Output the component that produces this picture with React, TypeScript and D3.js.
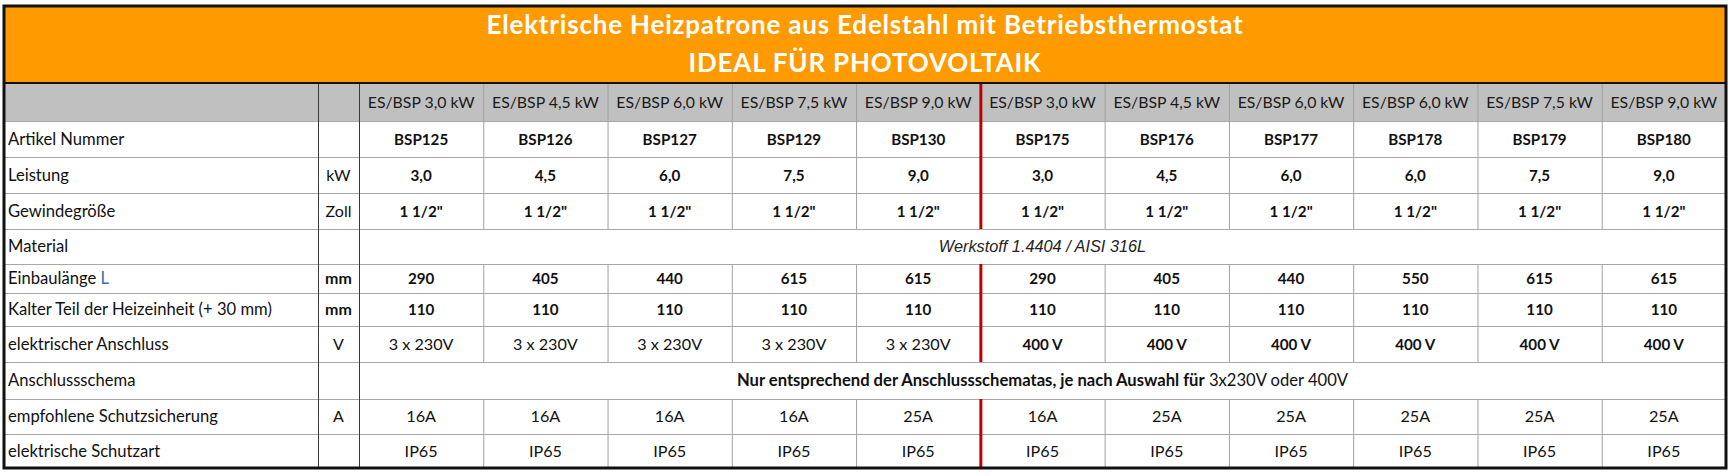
import * as d3 from 'd3'

const titleLines = ['Elektrische Heizpatrone aus Edelstahl mit Betriebsthermostat', 'IDEAL FÜR PHOTOVOLTAIK']

const modelHeaders = [
  'ES/BSP 3,0 kW', 'ES/BSP 4,5 kW', 'ES/BSP 6,0 kW', 'ES/BSP 7,5 kW', 'ES/BSP 9,0 kW',
  'ES/BSP 3,0 kW', 'ES/BSP 4,5 kW', 'ES/BSP 6,0 kW', 'ES/BSP 6,0 kW', 'ES/BSP 7,5 kW', 'ES/BSP 9,0 kW',
]
const articleNumbers = ['BSP125', 'BSP126', 'BSP127', 'BSP129', 'BSP130', 'BSP175', 'BSP176', 'BSP177', 'BSP178', 'BSP179', 'BSP180']
const powerKw = ['3,0', '4,5', '6,0', '7,5', '9,0', '3,0', '4,5', '6,0', '6,0', '7,5', '9,0']
const threadSize = ['1 1/2"', '1 1/2"', '1 1/2"', '1 1/2"', '1 1/2"', '1 1/2"', '1 1/2"', '1 1/2"', '1 1/2"', '1 1/2"', '1 1/2"']
const materialText = 'Werkstoff 1.4404 / AISI 316L'
const installLength = ['290', '405', '440', '615', '615', '290', '405', '440', '550', '615', '615']
const coldPart = ['110', '110', '110', '110', '110', '110', '110', '110', '110', '110', '110']
const connection = ['3 x 230V', '3 x 230V', '3 x 230V', '3 x 230V', '3 x 230V', '400 V', '400 V', '400 V', '400 V', '400 V', '400 V']
const schemaBold = 'Nur entsprechend der Anschlussschematas, je nach Auswahl für'
const schemaPlain = ' 3x230V oder 400V'
const fuse = ['16A', '16A', '16A', '16A', '25A', '16A', '25A', '25A', '25A', '25A', '25A']
const protection = ['IP65', 'IP65', 'IP65', 'IP65', 'IP65', 'IP65', 'IP65', 'IP65', 'IP65', 'IP65', 'IP65']

const rowLabels = [
  'Artikel Nummer', 'Leistung', 'Gewindegröße', 'Material', 'Einbaulänge', 'Kalter Teil der Heizeinheit (+ 30 mm)',
  'elektrischer Anschluss', 'Anschlussschema', 'empfohlene Schutzsicherung', 'elektrische Schutzart',
]
const rowUnits = ['', 'kW', 'Zoll', '', 'mm', 'mm', 'V', '', 'A', '']

const W = 1734
const H = 476
const FONT = 'Lato, "Noto Sans", sans-serif'

// row heights: gray header row, then the body rows
const rowHeights = [38, 36, 36, 36, 35, 29, 33, 36, 37, 35, 34]

export default function App() {
  const left = 4
  const right = 1726
  const top = 6
  const bandTop = 83
  const labelEnd = 318
  const unitEnd = 359
  const rowEdges = [bandTop, ...Array.from(d3.cumsum(rowHeights), (h) => bandTop + h)]
  const bottom = rowEdges[rowEdges.length - 1]

  const x = d3.scaleBand<number>().domain(d3.range(modelHeaders.length)).range([unitEnd, right])
  const cx = (i: number) => (x(i) ?? 0) + x.bandwidth() / 2
  const rowMid = (r: number) => (rowEdges[r] + rowEdges[r + 1]) / 2
  const splitCol = 5

  const bodyValues: (string[] | null)[] = [
    articleNumbers, powerKw, threadSize, null, installLength, coldPart, connection, null, fuse, protection,
  ]
  const boldRow = [true, true, true, false, true, true, false, false, false, false]

  return (
    <svg width={W} height={H} style={{ position: 'absolute', left: 0, top: 0, background: '#fff' }} fontFamily={FONT}>
      <rect x={left} y={top} width={right - left} height={bandTop - top} fill="#ff9a00" />
      {titleLines.map((t, i) => (
        <text key={t} x={(left + right) / 2} y={i === 0 ? 34 : 72} textAnchor="middle" fill="#fff"
          fontWeight={700} fontSize={26} letterSpacing={0.8}>{t}</text>
      ))}
      <rect x={left} y={bandTop} width={right - left} height={rowHeights[0]} fill="#c0c0c0" />

      {/* horizontal grid */}
      {rowEdges.slice(1, -1).map((y) => (
        <line key={y} x1={left} x2={right} y1={y + 0.5} y2={y + 0.5} stroke="#a8a8a8" />
      ))}

      {/* label and unit dividers */}
      {[labelEnd, unitEnd].map((vx) => (
        <line key={vx} x1={vx + 0.5} x2={vx + 0.5} y1={bandTop} y2={bottom} stroke="#3a3a3a" />
      ))}

      {/* data column dividers, skipped in merged rows */}
      {d3.range(1, modelHeaders.length).map((i) =>
        rowEdges.slice(0, -1).map((y0, r) => {
          if (r > 0 && bodyValues[r - 1] === null) return null
          const vx = x(i) ?? 0
          const red = i === splitCol
          return (
            <line key={`${i}-${r}`} x1={vx + 0.5} x2={vx + 0.5} y1={y0} y2={rowEdges[r + 1]}
              stroke={red ? '#c00000' : '#a0a0a0'} strokeWidth={red ? 3 : 1} />
          )
        })
      )}

      {/* header row */}
      {modelHeaders.map((h, i) => (
        <text key={`h${i}`} x={cx(i)} y={rowMid(0) + 5.5} textAnchor="middle" fontSize={15.8} fill="#1a1a1a">{h}</text>
      ))}

      {rowLabels.map((label, k) => {
        const r = k + 1
        const y = rowMid(r) + 5.5
        return (
          <g key={label}>
            <text x={8} y={y} fontSize={16.6} fill="#111">
              {label === 'Einbaulänge' ? <>{label} <tspan fill="#2f6fc4">L</tspan></> : label}
            </text>
            <text x={(labelEnd + unitEnd) / 2} y={y} textAnchor="middle" fontSize={16} fill="#111"
              fontWeight={rowUnits[k] === 'mm' ? 700 : 400}>{rowUnits[k]}</text>
          </g>
        )
      })}

      {bodyValues.map((vals, k) => {
        const r = k + 1
        const y = rowMid(r) + 5.5
        if (!vals) return null
        return vals.map((v, i) => {
          const bold = boldRow[k] || (k === 6 && v === '400 V')
          return (
            <text key={`${k}-${i}`} x={cx(i)} y={y} textAnchor="middle" fontSize={bold ? 15.2 : 16.2} fill="#111"
              fontWeight={bold ? 700 : 400}>{v}</text>
          )
        })
      })}

      <text x={(unitEnd + right) / 2} y={rowMid(4) + 5.5} textAnchor="middle" fontSize={16.3}
        fontStyle="italic" fontFamily='"Liberation Sans", Arial, sans-serif' fill="#222">{materialText}</text>
      <text x={(unitEnd + right) / 2} y={rowMid(8) + 5.5} textAnchor="middle" fontSize={16.6} fill="#111">
        <tspan fontWeight={700}>{schemaBold}</tspan><tspan>{schemaPlain}</tspan>
      </text>

      <line x1={left} x2={right} y1={bandTop} y2={bandTop} stroke="#111" strokeWidth={2} />
      <rect x={left} y={top} width={right - left} height={bottom - top} fill="none" stroke="#111" strokeWidth={3} />
    </svg>
  )
}
